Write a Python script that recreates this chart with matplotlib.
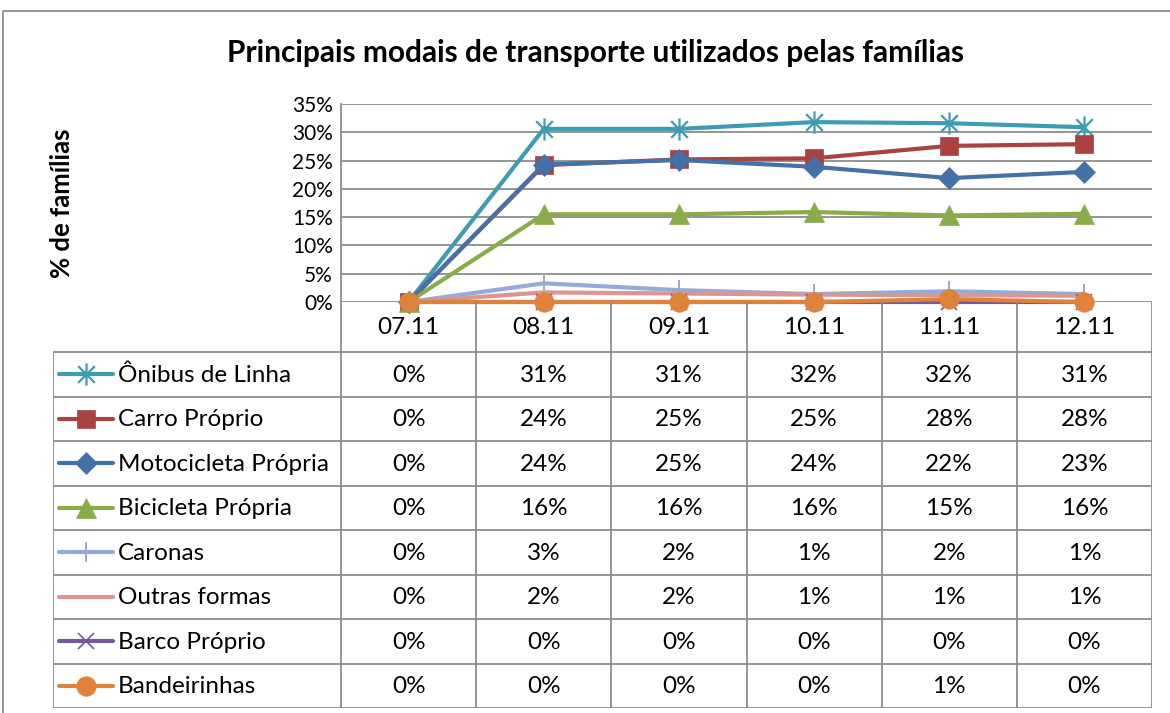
import matplotlib
matplotlib.use("Agg")
import matplotlib.pyplot as plt
from matplotlib.path import Path
from matplotlib.lines import Line2D
import numpy as np

plt.rcParams['font.family'] = ['Lato', 'DejaVu Sans']

# ---------------- data ----------------
categories = ["07.11", "08.11", "09.11", "10.11", "11.11", "12.11"]
series_names = ["Ônibus de Linha", "Carro Próprio", "Motocicleta Própria",
                "Bicicleta Própria", "Caronas", "Outras formas",
                "Barco Próprio", "Bandeirinhas"]
onibus = [0.0, 30.6, 30.6, 31.8, 31.6, 30.9]
carro = [0.0, 24.2, 25.2, 25.4, 27.6, 27.9]
moto = [0.0, 24.3, 25.1, 23.9, 21.9, 23.0]
bici = [0.0, 15.5, 15.5, 15.9, 15.3, 15.6]
caronas = [0.0, 3.3, 2.1, 1.4, 1.9, 1.4]
outras = [0.0, 1.7, 1.5, 1.3, 1.2, 1.1]
barco = [0.0, 0.0, 0.0, 0.0, 0.0, 0.0]
bandeirinhas = [0.0, 0.0, 0.0, 0.0, 0.5, 0.0]
yticks = [0, 5, 10, 15, 20, 25, 30, 35]
title = "Principais modais de transporte utilizados pelas famílias"
ylabel = "% de famílias"

values = [onibus, carro, moto, bici, caronas, outras, barco, bandeirinhas]

# ---------------- styles ----------------
star = Path([(0, -1), (0, 1), (-0.75, -0.75), (0.75, 0.75), (-0.75, 0.75), (0.75, -0.75)],
            [Path.MOVETO, Path.LINETO, Path.MOVETO, Path.LINETO, Path.MOVETO, Path.LINETO])
styles = [
    dict(color='#3E9BB2', marker=star, ms=16, mfc='none', mew=1.6),
    dict(color='#AA423F', marker='s', ms=13, mew=0.5),
    dict(color='#4472A8', marker='D', ms=11, mew=0.5),
    dict(color='#8AAC48', marker='^', ms=15, mew=0.5),
    dict(color='#93ACD6', marker='|', ms=14, mew=1.4),
    dict(color='#D99694', marker='None', ms=0, mew=0),
    dict(color='#7358A0', marker='x', ms=11, mew=1.2),
    dict(color='#E0833A', marker='o', ms=14, mew=0.5),
]
LW = 3.0
GRID = '#8C8C8C'
FS_TABLE = 17.5

W, H = 1170, 713
fig = plt.figure(figsize=(W / 100, H / 100), dpi=100)


def rect(x0, y0, x1, y1):
    return [x0 / W, 1 - y1 / H, (x1 - x0) / W, (y1 - y0) / H]


# outer chart border
border = fig.add_axes([0, 0, 1, 1])
border.set_xlim(0, W)
border.set_ylim(H, 0)
border.axis('off')
border.plot([3, 3, W + 5], [H + 5, 11, 11], color='#8C8C8C', lw=1.3, clip_on=False)

# ---------------- plot area ----------------
PX0, PY0, PX1, PY1 = 341, 104, 1152, 302
ax = fig.add_axes(rect(PX0, PY0, PX1, PY1))
x = np.arange(len(categories))
for vals, st in zip(values, styles):
    ax.plot(x, vals, lw=LW, color=st['color'], marker=st['marker'], ms=st['ms'],
            mfc=st.get('mfc', st['color']), mec=st['color'], mew=st['mew'],
            solid_capstyle='round', solid_joinstyle='round', clip_on=False, zorder=3)
ax.set_xlim(-0.5, len(categories) - 0.5)
ax.set_ylim(0, 35)
ax.set_yticks(yticks)
ax.set_yticklabels([f"{v}%" for v in yticks], fontsize=15)
ax.set_xticks([])
ax.tick_params(axis='y', length=0, pad=6)
for s in ['top', 'right', 'bottom']:
    ax.spines[s].set_visible(False)
ax.spines['left'].set_color(GRID)
ax.spines['left'].set_linewidth(1.3)
ax.grid(axis='y', color=GRID, lw=1.3)
ax.set_axisbelow(True)
ax.patch.set_alpha(0)

fig.text(596 / W, 1 - 53 / H, title, ha='center', va='center', fontsize=21.5, fontweight='bold')
fig.text(62 / W, 1 - 203 / H, ylabel, ha='center', va='center', rotation=90,
         fontsize=18.5, fontweight='bold')

# ---------------- data table ----------------
TX0, TY0, TX1, TY1 = 53, 302, 1152, 708
HEAD = 352
tb = fig.add_axes(rect(TX0, TY0, TX1, TY1))
tb.set_xlim(TX0, TX1)
tb.set_ylim(TY1, TY0)
tb.axis('off')
ncat = len(categories)
colw = (PX1 - PX0) / ncat
rowh = (TY1 - HEAD) / len(series_names)
lk = dict(color=GRID, lw=1.3, solid_capstyle='butt')
# vertical lines
for i in range(ncat + 1):
    xx = PX0 + i * colw
    tb.plot([xx, xx], [TY0, TY1], **lk)
tb.plot([TX0, TX0], [HEAD, TY1], **lk)
# horizontal lines
for j in range(len(series_names) + 1):
    yy = HEAD + j * rowh
    tb.plot([TX0, TX1], [yy, yy], **lk)
# header
for i, c in enumerate(categories):
    tb.text(PX0 + (i + 0.5) * colw, (TY0 + HEAD) / 2 + 1, c, ha='center', va='center',
            fontsize=FS_TABLE)
# rows
for j, (name, vals, st) in enumerate(zip(series_names, values, styles)):
    yc = HEAD + (j + 0.5) * rowh
    tb.add_line(Line2D([59, 113], [yc, yc], lw=LW, color=st['color'], marker='None',
                       solid_capstyle='round'))
    if st['marker'] != 'None':
        tb.add_line(Line2D([86], [yc], color=st['color'], marker=st['marker'], ms=st['ms'],
                           mfc=st.get('mfc', st['color']), mec=st['color'], mew=st['mew'],
                           linestyle='None'))
    tb.text(118, yc + 1, name, ha='left', va='center', fontsize=FS_TABLE)
    for i, v in enumerate(vals):
        tb.text(PX0 + (i + 0.5) * colw, yc + 1, f"{v:.0f}%" if v != 0.5 else "1%",
                ha='center', va='center', fontsize=FS_TABLE)

fig.savefig("out.png", dpi=100)
